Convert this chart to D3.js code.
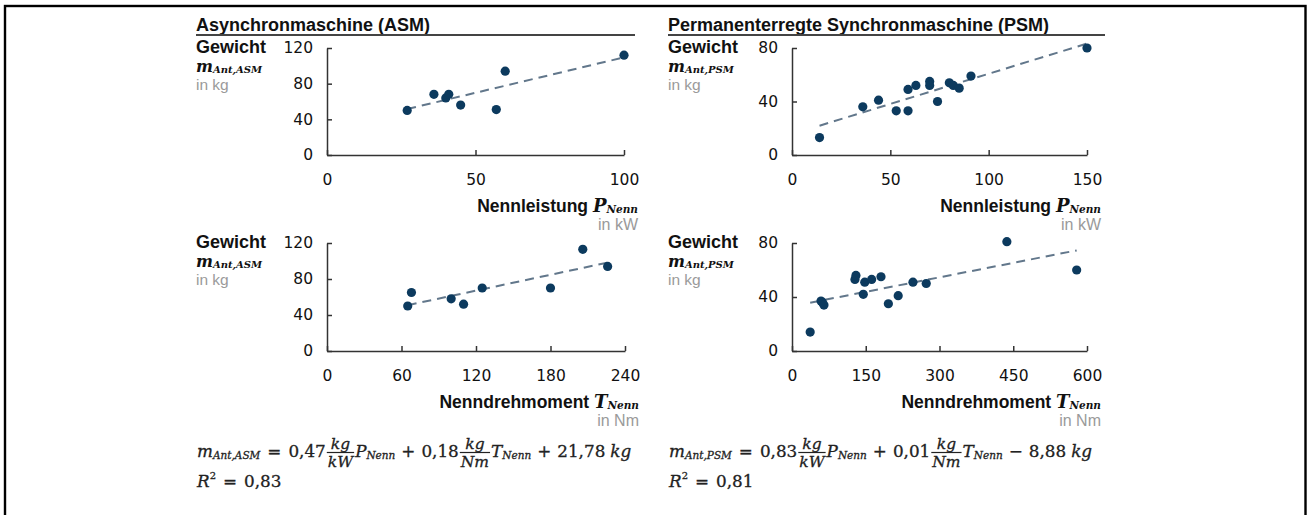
<!DOCTYPE html>
<html>
<head>
<meta charset="utf-8">
<script src="https://cdn.jsdelivr.net/npm/d3@7"></script>
<style>
body { margin: 0; background: #fff; }
svg { display: block; }
.sans { font-family: "Liberation Sans", Arial, sans-serif; }
.serif { font-family: "DejaVu Serif", Cambria, serif; }
.tick text { font-family: "DejaVu Sans", Arial, sans-serif; font-size: 15.5px; fill: #111; }
.tick line, .domain { stroke: #333; stroke-width: 1.5; }
</style>
</head>
<body>
<div id="chart"></div>
<script>

//====================DATA===================

// Asynchronmaschine: Nennleistung (kW) vs Gewicht (kg)
const asmPower = [27, 36, 40, 41, 45, 57, 60, 100]
const asmMassP = [50, 68, 64, 68, 56, 51, 94, 112]

// Asynchronmaschine: Nenndrehmoment (Nm) vs Gewicht (kg)
const asmTorque = [65, 68, 100, 110, 125, 180, 206, 226]
const asmMassT = [50, 65, 58, 52, 70, 70, 113, 94]

// PSM: Nennleistung (kW) vs Gewicht (kg)
const psmPower = [14, 36, 44, 53, 59, 59, 63, 70, 70, 74, 80, 82, 85, 91, 150]
const psmMassP = [13, 36, 41, 33, 33, 49, 52, 55, 52, 40, 54, 52, 50, 59, 80]

// PSM: Nenndrehmoment (Nm) vs Gewicht (kg)
const psmTorque = [37, 59, 62, 65, 128, 130, 145, 148, 162, 181, 196, 216, 246, 273, 437, 579]
const psmMassT = [14, 37, 36, 34, 53, 56, 42, 51, 53, 55, 35, 41, 51, 50, 81, 60]

// tick labels
const yTicksAsm = [0, 40, 80, 120]
const yTicksPsm = [0, 40, 80]
const xTicksAsmP = [0, 50, 100]
const xTicksPsmP = [0, 50, 100, 150]
const xTicksAsmT = [0, 60, 120, 180, 240]
const xTicksPsmT = [0, 150, 300, 450, 600]

const titles = ['Asynchronmaschine (ASM)', 'Permanenterregte Synchronmaschine (PSM)']

//====================STRUCTURE===================

const width = 1311, height = 515;
const dotColor = '#0c3a5e';
const trendColor = '#62778b';
const grey = '#9a9a9a';

const svg = d3.select('#chart')
.append('svg')
.attr('width', width)
.attr('height', height)

// frame
svg.append('rect')
.attr('x', 5)
.attr('y', 6)
.attr('width', 1300.5)
.attr('height', height + 20)
.attr('fill', 'none')
.attr('stroke', '#000')
.attr('stroke-width', 2.4)

const columns = [
	{x: 196, x2: 635, title: titles[0]},
	{x: 668, x2: 1105, title: titles[1]}
]

columns.forEach(c => {
	svg.append('text')
	.attr('class', 'sans')
	.attr('x', c.x)
	.attr('y', 31)
	.attr('font-size', 18)
	.attr('font-weight', 'bold')
	.attr('fill', '#111')
	.text(c.title)

	svg.append('line')
	.attr('x1', c.x).attr('x2', c.x2)
	.attr('y1', 35).attr('y2', 35)
	.attr('stroke', '#444')
	.attr('stroke-width', 2)
})

const panels = [
	{left: 327, right: 624, top: 48, bottom: 155, labelX: 196, xs: asmPower, ys: asmMassP, xTicks: xTicksAsmP, yTicks: yTicksAsm, sub: 'Ant,ASM', xName: 'Nennleistung ', xSym: 'P', xUnit: 'in kW'},
	{left: 792, right: 1087, top: 48, bottom: 155, labelX: 668, xs: psmPower, ys: psmMassP, xTicks: xTicksPsmP, yTicks: yTicksPsm, sub: 'Ant,PSM', xName: 'Nennleistung ', xSym: 'P', xUnit: 'in kW'},
	{left: 327, right: 625, top: 243, bottom: 351, labelX: 196, xs: asmTorque, ys: asmMassT, xTicks: xTicksAsmT, yTicks: yTicksAsm, sub: 'Ant,ASM', xName: 'Nenndrehmoment ', xSym: 'T', xUnit: 'in Nm'},
	{left: 792, right: 1087, top: 243, bottom: 351, labelX: 668, xs: psmTorque, ys: psmMassT, xTicks: xTicksPsmT, yTicks: yTicksPsm, sub: 'Ant,PSM', xName: 'Nenndrehmoment ', xSym: 'T', xUnit: 'in Nm'}
]

// least squares fit
const fit = (xs, ys) => {
	const mx = d3.mean(xs), my = d3.mean(ys);
	const sxy = d3.sum(xs, (x, i) => (x - mx) * (ys[i] - my));
	const sxx = d3.sum(xs, x => (x - mx) * (x - mx));
	const slope = sxy / sxx;
	return x => my + slope * (x - mx);
}

panels.forEach(p => {

	const x = d3.scaleLinear()
	.domain(d3.extent(p.xTicks))
	.range([p.left, p.right])

	const y = d3.scaleLinear()
	.domain(d3.extent(p.yTicks))
	.range([p.bottom, p.top])

	const g = svg.append('g')

	g.append('g')
	.attr('transform', `translate(0,${p.bottom})`)
	.call(d3.axisBottom(x).tickValues(p.xTicks).tickSizeInner(-5).tickSizeOuter(0).tickPadding(19))

	g.append('g')
	.attr('transform', `translate(${p.left},0)`)
	.call(d3.axisLeft(y).tickValues(p.yTicks).tickSizeInner(-5).tickSizeOuter(0).tickPadding(14))

	// trend line
	const f = fit(p.xs, p.ys);
	const ext = d3.extent(p.xs);

	g.append('path')
	.datum(ext)
	.attr('d', d3.line().x(d => x(d)).y(d => y(f(d))))
	.attr('fill', 'none')
	.attr('stroke', trendColor)
	.attr('stroke-width', 2)
	.attr('stroke-dasharray', '9,6')

	g.selectAll('circle')
	.data(p.xs.map((d, i) => [d, p.ys[i]]))
	.enter()
	.append('circle')
	.attr('cx', d => x(d[0]))
	.attr('cy', d => y(d[1]))
	.attr('r', 4.6)
	.attr('fill', dotColor)

	// y label block
	g.append('text')
	.attr('class', 'sans')
	.attr('x', p.labelX)
	.attr('y', p.top + 5)
	.attr('font-size', 18)
	.attr('font-weight', 'bold')
	.attr('fill', '#111')
	.text('Gewicht')

	const m = g.append('text')
	.attr('class', 'serif')
	.attr('x', p.labelX)
	.attr('y', p.top + 24)
	.attr('font-style', 'italic')
	.attr('font-weight', 'bold')
	.attr('fill', '#111')

	m.append('tspan').attr('font-size', 16).text('m')
	m.append('tspan').attr('font-size', 10).attr('dy', 1).text(p.sub)

	g.append('text')
	.attr('class', 'sans')
	.attr('x', p.labelX)
	.attr('y', p.top + 42)
	.attr('font-size', 15.5)
	.attr('fill', grey)
	.text('in kg')

	// x label block
	const xt = g.append('text')
	.attr('x', p.right + 14)
	.attr('y', p.bottom + 57)
	.attr('text-anchor', 'end')
	.attr('font-weight', 'bold')
	.attr('fill', '#111')

	xt.append('tspan').attr('class', 'sans').attr('font-size', 17.5).text(p.xName)
	xt.append('tspan').attr('class', 'serif').attr('font-style', 'italic').attr('font-size', 18).text(p.xSym)
	xt.append('tspan').attr('class', 'serif').attr('font-style', 'italic').attr('font-size', 10.5).attr('dy', 1).text('Nenn')

	g.append('text')
	.attr('class', 'sans')
	.attr('x', p.right + 14)
	.attr('y', p.bottom + 75)
	.attr('text-anchor', 'end')
	.attr('font-size', 16)
	.attr('fill', grey)
	.text(p.xUnit)
})

//====================FORMULAS===================

const mathLine = (x, y, parts) => {
	let cx = x;
	parts.forEach(p => {
		if (p.gap) { cx += p.gap; return; }
		if (p.frac) {
			const num = svg.append('text').attr('class', 'serif').attr('font-style', 'italic')
			.attr('font-size', 15.5).attr('fill', '#222').attr('stroke', '#222').attr('stroke-width', 0.3)
			.attr('text-anchor', 'middle').text(p.frac[0]);
			const den = svg.append('text').attr('class', 'serif').attr('font-style', 'italic')
			.attr('font-size', 15.5).attr('fill', '#222').attr('stroke', '#222').attr('stroke-width', 0.3)
			.attr('text-anchor', 'middle').text(p.frac[1]);
			const w = Math.max(num.node().getComputedTextLength(), den.node().getComputedTextLength()) + 2;
			num.attr('x', cx + w / 2).attr('y', y - 8.5);
			den.attr('x', cx + w / 2).attr('y', y + 9.5);
			svg.append('line')
			.attr('x1', cx).attr('x2', cx + w)
			.attr('y1', y - 4.5).attr('y2', y - 4.5)
			.attr('stroke', '#222').attr('stroke-width', 1.2)
			cx += w + 1;
			return;
		}
		const t = svg.append('text')
		.attr('class', 'serif')
		.attr('x', cx)
		.attr('y', y + (p.dy || 0))
		.attr('font-size', p.size || 16.8)
		.attr('font-style', p.it ? 'italic' : 'normal')
		.attr('fill', '#222')
		.attr('stroke', '#222')
		.attr('stroke-width', 0.3)
		.text(p.t)
		cx += t.node().getComputedTextLength();
	})
}

const formula = (x, sub, c1, c2, sign, c3) => {
	mathLine(x, 457, [
		{t: 'm', it: true},
		{t: sub, it: true, size: 10.5, dy: 2},
		{gap: 7}, {t: '='}, {gap: 7},
		{t: c1}, {gap: 1},
		{frac: ['kg', 'kW']},
		{t: 'P', it: true},
		{t: 'Nenn', it: true, size: 10.5, dy: 2},
		{gap: 6}, {t: '+'}, {gap: 6},
		{t: c2}, {gap: 1},
		{frac: ['kg', 'Nm']},
		{t: 'T', it: true},
		{t: 'Nenn', it: true, size: 10.5, dy: 2},
		{gap: 6}, {t: sign}, {gap: 6},
		{t: c3}, {gap: 5},
		{t: 'kg', it: true}
	])
}

formula(197, 'Ant,ASM', '0,47', '0,18', '+', '21,78')
formula(669, 'Ant,PSM', '0,83', '0,01', '\u2212', '8,88')

const rLine = (x, val) => {
	mathLine(x, 487, [
		{t: 'R', it: true},
		{t: '2', size: 10, dy: -8},
		{gap: 7}, {t: '='}, {gap: 7},
		{t: val}
	])
}

rLine(197, '0,83')
rLine(669, '0,81')

</script>
</body>
</html>
